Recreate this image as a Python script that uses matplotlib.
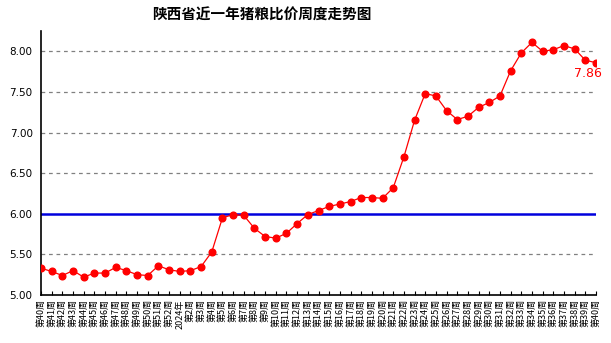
import matplotlib
matplotlib.use("Agg")
import matplotlib.pyplot as plt

plt.rcParams['font.family'] = ['Noto Sans CJK SC', 'DejaVu Sans']

labels = [f"第{i}周" for i in range(40, 53)] + ["2024年"] + [f"第{i}周" for i in range(2, 41)]
values = [5.33, 5.29, 5.24, 5.30, 5.22, 5.27, 5.27, 5.34, 5.30, 5.25, 5.24, 5.36, 5.31,
          5.29, 5.30, 5.35, 5.53, 5.95, 5.99, 5.98, 5.82, 5.72, 5.70, 5.76, 5.88, 5.99,
          6.04, 6.09, 6.12, 6.15, 6.20, 6.20, 6.19, 6.32, 6.70, 7.15, 7.48, 7.45, 7.27,
          7.16, 7.20, 7.31, 7.37, 7.45, 7.76, 7.98, 8.11, 8.00, 8.02, 8.07, 8.03, 7.89, 7.86]
yticks = [5.00, 5.50, 6.00, 6.50, 7.00, 7.50, 8.00]
ref_line = 6.00
title = "陕西省近一年猪粮比价周度走势图"

fig = plt.figure(figsize=(6.11, 3.43), dpi=100)
ax = fig.add_axes([41/611, 1-295/343, (596-41)/611, (295-31)/343])
x = list(range(len(values)))

for yt in yticks[1:]:
    if yt != ref_line:
        ax.axhline(yt, color='#808080', linestyle=(0, (3, 3)), linewidth=0.9, zorder=1)
ax.axhline(ref_line, color='#0000dd', linewidth=1.8, zorder=2)

ax.plot(x, values, color='#ff0000', linewidth=0.9, marker='o', markersize=4.8,
        markerfacecolor='#ff0000', markeredgecolor='#ff0000', zorder=3)
ax.annotate(f"{values[-1]:.2f}", xy=(x[-1], values[-1]), xytext=(4, -8),
            textcoords='offset points', ha='right', va='center',
            color='#ff0000', fontsize=9, family='DejaVu Sans')

ax.set_xlim(0, len(values) - 1)
ax.set_ylim(5.0, 8.25)
ax.set_yticks(yticks)
ax.set_yticklabels([f"{v:.2f}" for v in yticks], fontsize=7.5, family='DejaVu Sans')
ax.tick_params(axis='y', length=0, pad=6)
ax.set_xticks(x)
ax.set_xticklabels(labels, rotation=90, fontsize=6.5)
ax.tick_params(axis='x', direction='in', length=3, pad=3)

for s in ['top', 'right']:
    ax.spines[s].set_visible(False)
ax.spines['left'].set_linewidth(1.2)
ax.spines['bottom'].set_linewidth(1.2)

fig.text(262/611, 1-15/343, title, ha='center', va='center', fontsize=10.5, fontweight='bold')

fig.savefig("out.png", dpi=100)
